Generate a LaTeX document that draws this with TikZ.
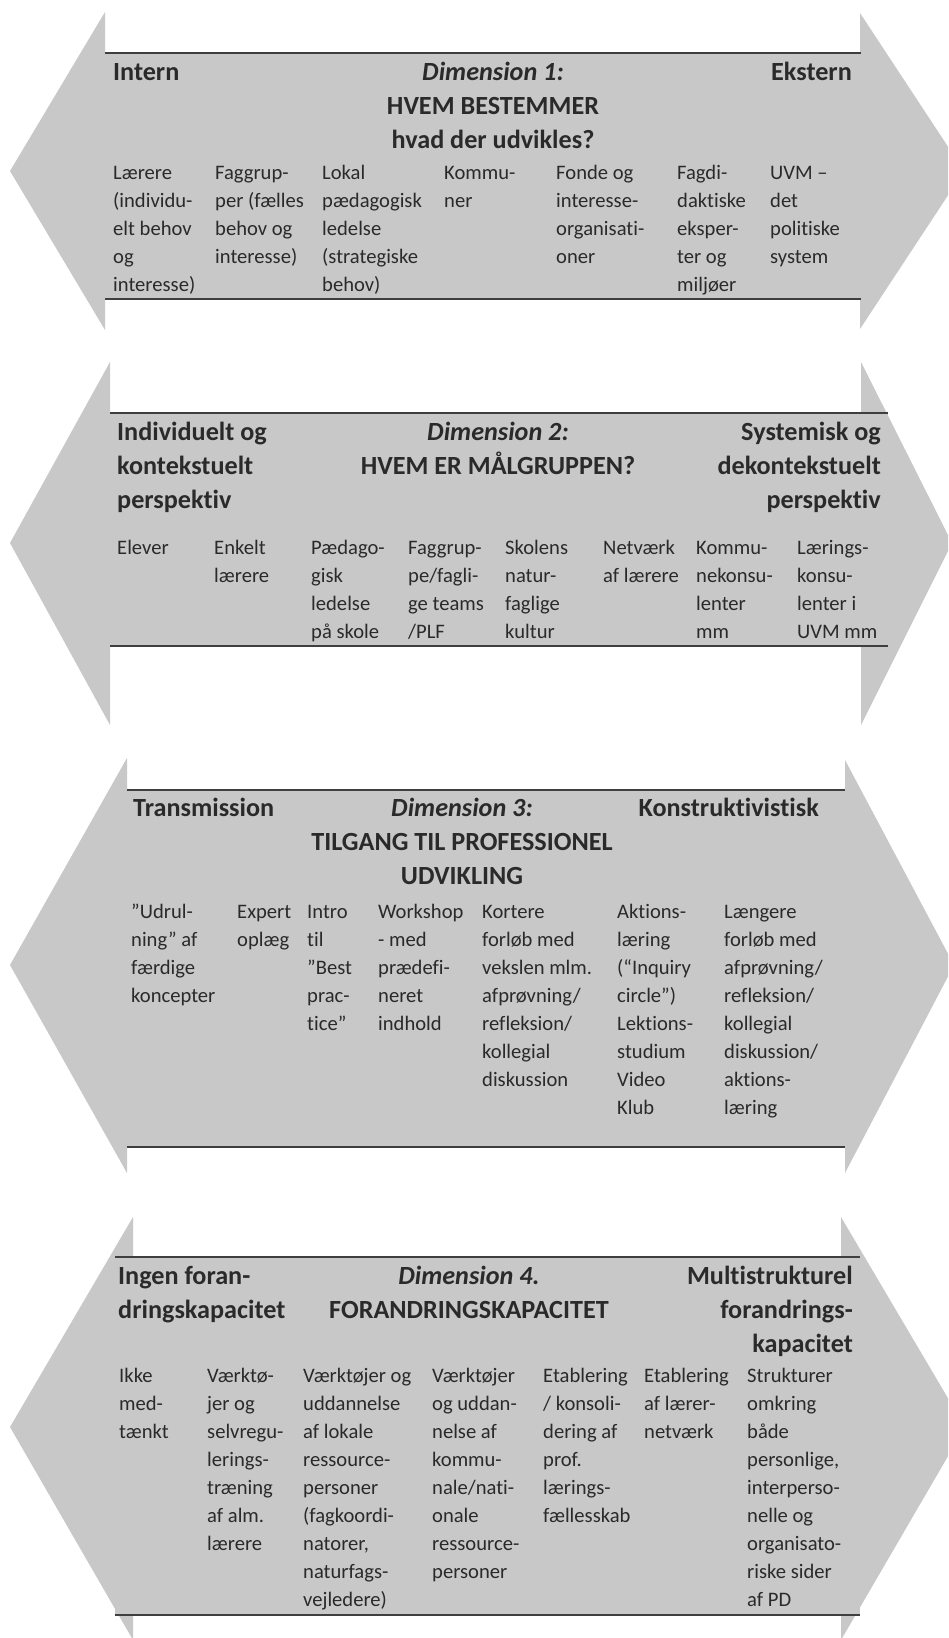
\documentclass[tikz,border=0pt]{standalone}
\usepackage{fontspec}
\setmainfont{Carlito}[Ligatures={NoCommon}]
\definecolor{arrowgray}{HTML}{C8C8C8}
\definecolor{rulegray}{HTML}{3F3F3F}
\definecolor{ink}{HTML}{2A2A2A}
% one cell of stacked lines; the first line sits on the node's baseline
\newcommand\colL[1]{\begin{tabular}[t]{@{}l@{}}#1\end{tabular}}
\newcommand\colC[1]{\begin{tabular}[t]{@{}c@{}}#1\end{tabular}}
\newcommand\colR[1]{\begin{tabular}[t]{@{}r@{}}#1\end{tabular}}
\tikzset{
  band/.style={fill=arrowgray, draw=none},
  tablerule/.style={draw=rulegray, line width=2.4pt},
  body/.style={inner sep=0pt, text=ink, font=\fontsize{20.6}{28.1}\selectfont, anchor=base west},
  head/.style={inner sep=0pt, text=ink, font=\bfseries\fontsize{26.2}{34.3}\selectfont},
}
\begin{document}
\begin{tikzpicture}[x=1pt,y=-1pt]
\useasboundingbox[fill=white] (0,0) rectangle (948,1638);
\begin{scope}
\clip (0,0) rectangle (948,1638);

% ---------- Dimension 1 ----------
\fill[band] (105,12) -- (10,171) -- (105,330) -- (105,299) -- (860,299) -- (860,329)
  -- (964,171) -- (860,13) -- (860,53) -- (105,53) -- cycle;
\draw[tablerule] (105,53) -- (861,53);
\draw[tablerule] (105,299) -- (861,299);
\node[head, anchor=base west] (d1left) at (113,80) {Intern};
\node[head, anchor=base] (d1mid) at (493,80) {\colC{\textit{Dimension 1:}\\HVEM BESTEMMER\\hvad der udvikles?}};
\node[head, anchor=base west] (d1right) at (771,80) {Ekstern};
\node[body] (d1c1) at (113,179) {\colL{Lærere\\(individu-\\elt behov\\og\\interesse)}};
\node[body] (d1c2) at (215,179) {\colL{Faggrup-\\per (fælles\\behov og\\interesse)}};
\node[body] (d1c3) at (322,179) {\colL{Lokal\\pædagogisk\\ledelse\\(strategiske\\behov)}};
\node[body] (d1c4) at (444,179) {\colL{Kommu-\\ner}};
\node[body] (d1c5) at (556,179) {\colL{Fonde og\\interesse-\\organisati-\\oner}};
\node[body] (d1c6) at (677,179) {\colL{Fagdi-\\daktiske\\eksper-\\ter og\\miljøer}};
\node[body] (d1c7) at (770,179) {\colL{UVM –\\det\\politiske\\system}};

% ---------- Dimension 2 ----------
\fill[band] (110,362) -- (10,543) -- (110,725) -- (110,646) -- (861,646) -- (861,725)
  -- (952,543) -- (861,362) -- (861,413) -- (110,413) -- cycle;
\fill[band] (110,413) rectangle (888,646);
\draw[tablerule] (110,413) -- (888,413);
\draw[tablerule] (110,646) -- (888,646);
\node[head, anchor=base west] (d2left) at (117,440) {\colL{Individuelt og\\kontekstuelt\\perspektiv}};
\node[head, anchor=base] (d2mid) at (498,440) {\colC{\textit{Dimension 2:}\\HVEM ER MÅLGRUPPEN?}};
\node[head, anchor=base east] (d2right) at (881,440) {\colR{Systemisk og\\dekontekstuelt\\perspektiv}};
\node[body] (d2c1) at (117,554) {\colL{Elever}};
\node[body] (d2c2) at (214,554) {\colL{Enkelt\\lærere}};
\node[body] (d2c3) at (311,554) {\colL{Pædago-\\gisk\\ledelse\\på skole}};
\node[body] (d2c4) at (408,554) {\colL{Faggrup-\\pe/fagli-\\ge teams\\/PLF}};
\node[body] (d2c5) at (505,554) {\colL{Skolens\\natur-\\faglige\\kultur}};
\node[body] (d2c6) at (603,554) {\colL{Netværk\\af lærere}};
\node[body] (d2c7) at (696,554) {\colL{Kommu-\\nekonsu-\\lenter\\mm}};
\node[body] (d2c8) at (797,554) {\colL{Lærings-\\konsu-\\lenter i\\UVM mm}};

% ---------- Dimension 3 ----------
\fill[band] (127,758) -- (10,965) -- (127,1173) -- (127,1147) -- (845,1147) -- (845,1173)
  -- (954,965) -- (845,760) -- (845,790) -- (127,790) -- cycle;
\draw[tablerule] (127,790) -- (845,790);
\draw[tablerule] (127,1147) -- (845,1147);
\node[head, anchor=base west] (d3left) at (133,816) {Transmission};
\node[head, anchor=base] (d3mid) at (462,816) {\colC{\textit{Dimension 3:}\\TILGANG TIL PROFESSIONEL\\UDVIKLING}};
\node[head, anchor=base east] (d3right) at (819,816) {Konstruktivistisk};
\node[body] (d3c1) at (131,918) {\colL{”Udrul-\\ning” af\\færdige\\koncepter}};
\node[body] (d3c2) at (237,918) {\colL{Expert\\oplæg}};
\node[body] (d3c3) at (307,918) {\colL{Intro\\til\\”Best\\prac-\\tice”}};
\node[body] (d3c4) at (378,918) {\colL{Workshop\\- med\\prædefi-\\neret\\indhold}};
\node[body] (d3c5) at (482,918) {\colL{Kortere\\forløb med\\vekslen mlm.\\afprøvning/\\refleksion/\\kollegial\\diskussion}};
\node[body] (d3c6) at (617,918) {\colL{Aktions-\\læring\\(“Inquiry\\circle”)\\Lektions-\\studium\\Video\\Klub}};
\node[body] (d3c7) at (724,918) {\colL{Længere\\forløb med\\afprøvning/\\refleksion/\\kollegial\\diskussion/\\aktions-\\læring}};

% ---------- Dimension 4 ----------
\fill[band] (133,1217) -- (10,1427) -- (133,1640) -- (133,1615) -- (841,1615) -- (841,1640)
  -- (965,1427) -- (841,1217) -- (841,1257) -- (133,1257) -- cycle;
\fill[band] (115,1257) rectangle (860,1615);
\draw[tablerule] (115,1257) -- (860,1257);
\draw[tablerule] (115,1615) -- (860,1615);
\node[head, anchor=base west] (d4left) at (118,1284) {\colL{Ingen foran-\\dringskapacitet}};
\node[head, anchor=base] (d4mid) at (469,1284) {\colC{\textit{Dimension 4.}\\FORANDRINGSKAPACITET}};
\node[head, anchor=base east] (d4right) at (853,1284) {\colR{Multistrukturel\\forandrings-\\kapacitet}};
\node[body] (d4c1) at (119,1382) {\colL{Ikke\\med-\\tænkt}};
\node[body] (d4c2) at (207,1382) {\colL{Værktø-\\jer og\\selvregu-\\lerings-\\træning\\af alm.\\lærere}};
\node[body] (d4c3) at (303,1382) {\colL{Værktøjer og\\uddannelse\\af lokale\\ressource-\\personer\\(fagkoordi-\\natorer,\\naturfags-\\vejledere)}};
\node[body] (d4c4) at (432,1382) {\colL{Værktøjer\\og uddan-\\nelse af\\kommu-\\nale/nati-\\onale\\ressource-\\personer}};
\node[body] (d4c5) at (543,1382) {\colL{Etablering\\/ konsoli-\\dering af\\prof.\\lærings-\\fællesskab}};
\node[body] (d4c6) at (644,1382) {\colL{Etablering\\af lærer-\\netværk}};
\node[body] (d4c7) at (747,1382) {\colL{Strukturer\\omkring\\både\\personlige,\\interperso-\\nelle og\\organisato-\\riske sider\\af PD}};
\end{scope}
\end{tikzpicture}
\end{document}
